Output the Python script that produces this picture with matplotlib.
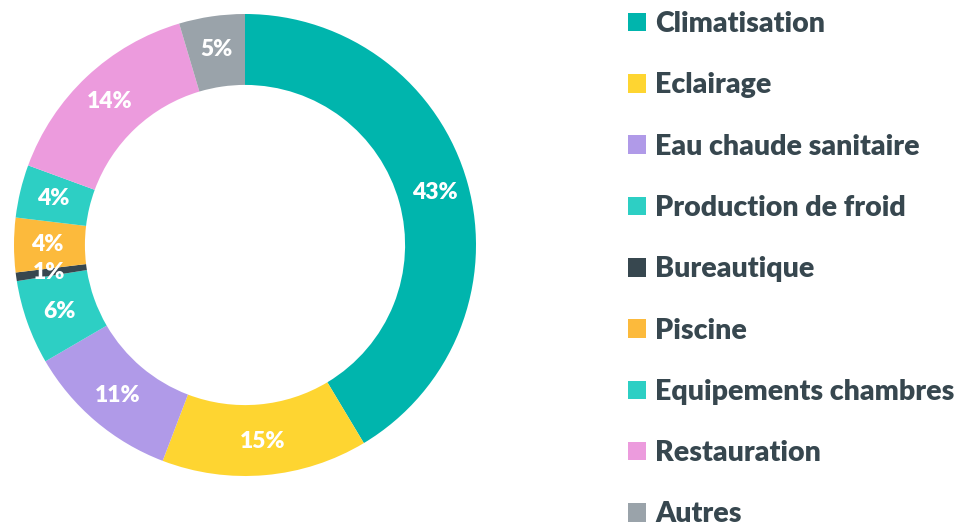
import matplotlib.pyplot as plt
from matplotlib.patches import Patch
import numpy as np

# categories, shares and the printed labels
categories = ['Climatisation', 'Eclairage', 'Eau chaude sanitaire', 'Production de froid',
              'Bureautique', 'Piscine', 'Equipements chambres', 'Restauration', 'Autres']
shares = [41.4, 14.4, 10.8, 5.9, 0.6, 3.8, 3.7, 14.8, 4.6]
pct_labels = ['43%', '15%', '11%', '6%', '1%', '4%', '4%', '14%', '5%']
colors = ['#00b5ad', '#fed531', '#b09ae8', '#2dcfc4', '#37474f',
          '#fcba3c', '#2dcfc4', '#ec9bdd', '#9aa3aa']

txt_color = '#37474f'
plt.rcParams['font.family'] = ['Lato', 'DejaVu Sans']

fig = plt.figure(figsize=(9.67, 5.29), dpi=100)
ax = fig.add_axes([14 / 967, 53 / 529, 462 / 967, 462 / 529])

wedges, _ = ax.pie(shares, colors=colors, startangle=90, counterclock=False,
                   wedgeprops=dict(width=0.307, edgecolor='none'))
ax.set_xlim(-1, 1)
ax.set_ylim(-1, 1)
ax.set_aspect('equal')
ax.axis('off')

# percentage labels in the middle of the ring
r_lab = 0.855
for w, lab in zip(wedges, pct_labels):
    ang = np.deg2rad((w.theta1 + w.theta2) / 2)
    ax.text(r_lab * np.cos(ang), r_lab * np.sin(ang), lab, ha='center', va='center',
            color='white', fontsize=16.5, fontweight='heavy')

handles = [Patch(facecolor=c, edgecolor='none') for c in colors]
leg = fig.legend(handles, categories, loc='upper left', bbox_to_anchor=(628 / 967, 1 - 11 / 529),
                 frameon=False, prop=dict(size=20.5, weight='heavy'),
                 handlelength=0.63, handleheight=0.63, handletextpad=0.33,
                 labelspacing=1.24, borderaxespad=0, borderpad=0)
for t in leg.get_texts():
    t.set_color(txt_color)

fig.savefig('out.png', dpi=100)
